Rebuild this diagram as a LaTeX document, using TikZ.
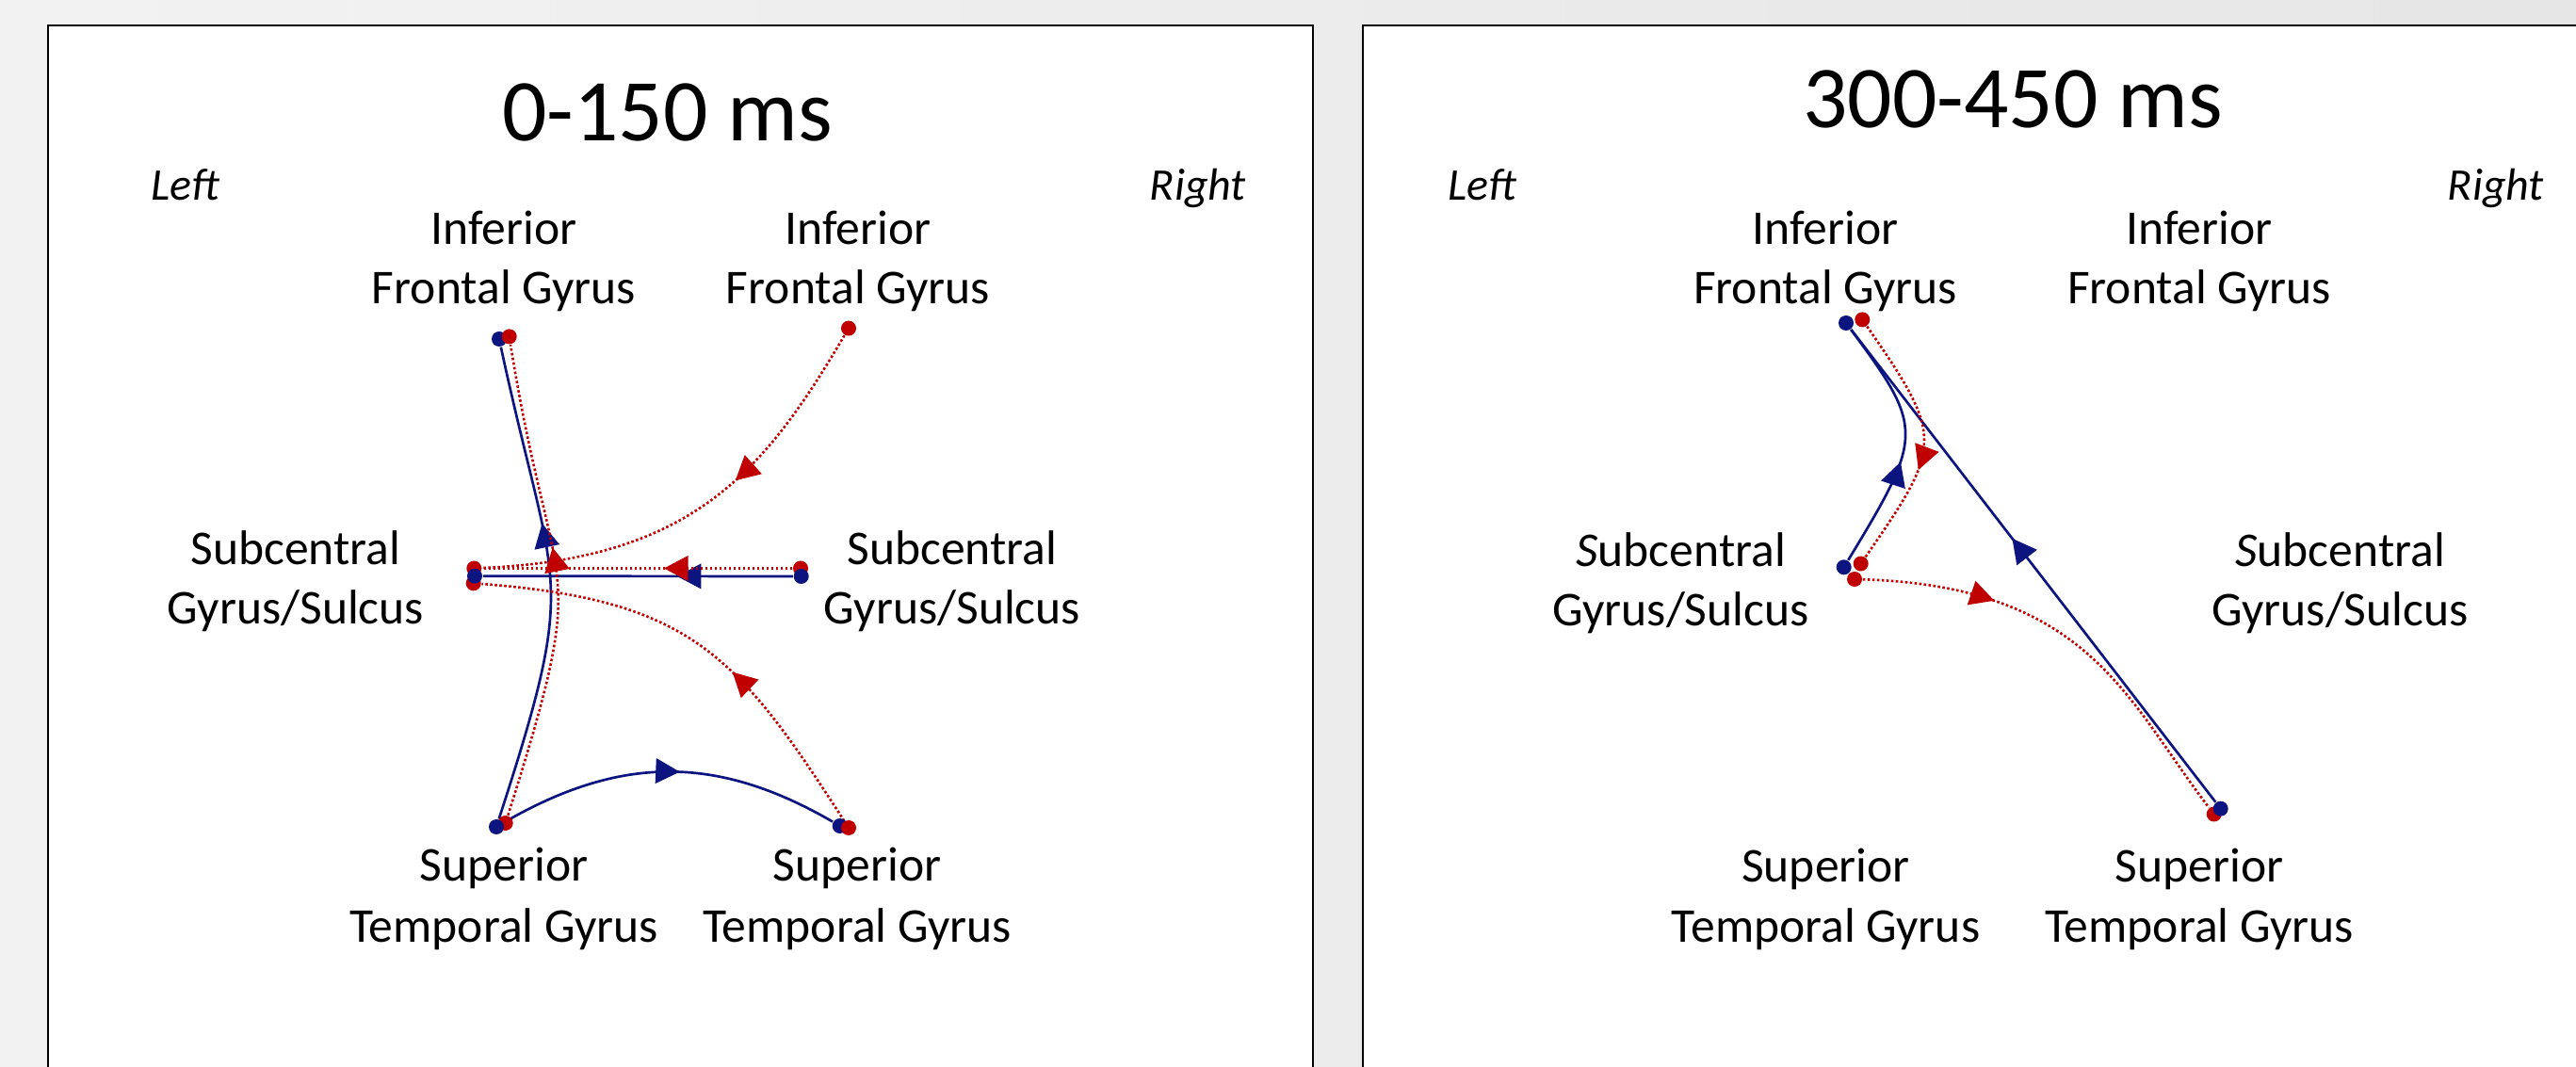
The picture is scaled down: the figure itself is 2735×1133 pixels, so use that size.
\documentclass[tikz,border=0pt]{standalone}
\usepackage{fontspec}
\setmainfont{Carlito}
\usetikzlibrary{arrows.meta,decorations.markings}
\definecolor{navyb}{RGB}{12,20,128}
\definecolor{redd}{RGB}{192,0,0}
\pgfdeclarelayer{back}
\pgfdeclarelayer{edges}
\pgfsetlayers{back,edges,main}
\tikzset{
  bdot/.style={circle,fill=navyb,inner sep=0pt,minimum size=4pt},
  rdot/.style={circle,fill=redd,inner sep=0pt,minimum size=4pt},
  bedge/.style={draw=navyb,line width=0.67pt},
  redge/.style={draw=redd,line width=0.65pt,dash pattern=on 0.65pt off 0.6pt},
  midarrow/.style={postaction={decorate},decoration={markings,mark=at position #1 with {\arrow{Triangle[length=6.4pt,width=6.6pt]}}}},
  lab/.style={anchor=base,font=\fontsize{12.9}{16}\selectfont,inner sep=0pt},
  side/.style={anchor=base,font=\fontsize{12}{14}\selectfont\itshape,inner sep=0pt},
  ttl/.style={anchor=base,font=\fontsize{23.4}{28}\selectfont,inner sep=0pt},
  panel/.style={fill=white,draw=black,line width=0.7pt},
}
\begin{document}
\begin{tikzpicture}[x=0.25pt,y=-0.25pt]
\useasboundingbox (0,0) rectangle (2735,1133);
\begin{pgfonlayer}{back}
\fill[left color=black!5,right color=black!10] (0,0) rectangle (2735,1133);
\draw[panel] (51,27) rectangle (1394,1160);
\draw[panel] (1447,27) rectangle (2760,1160);
\end{pgfonlayer}

% ---------- left panel texts ----------
\node[ttl] (t1) at (708.6,150) {0-150 ms};
\node[side] (l1) at (197,213) {Left};
\node[side] (r1) at (1272,213) {Right};
\node[lab] (a1) at (535,260) {Inferior};
\node[lab] (a2) at (535,323) {Frontal Gyrus};
\node[lab] (b1) at (911,260) {Inferior};
\node[lab] (b2) at (911,323) {Frontal Gyrus};
\node[lab] (c1) at (314,600) {Subcentral};
\node[lab] (c2) at (314,663) {Gyrus/Sulcus};
\node[lab] (d1) at (1011,600) {Subcentral};
\node[lab] (d2) at (1011,663) {Gyrus/Sulcus};
\node[lab] (e1) at (535,936) {Superior};
\node[lab] (e2) at (535,1001) {Temporal Gyrus};
\node[lab] (f1) at (910,936) {Superior};
\node[lab] (f2) at (910,1001) {Temporal Gyrus};

% ---------- right panel texts ----------
\node[ttl] (t2) at (2137,136) {300-450 ms};
\node[side] (l2) at (1574,213) {Left};
\node[side] (r2) at (2650,213) {Right};
\node[lab] (g1) at (1938,260) {Inferior};
\node[lab] (g2) at (1938,323) {Frontal Gyrus};
\node[lab] (h1) at (2335,260) {Inferior};
\node[lab] (h2) at (2335,323) {Frontal Gyrus};
\node[lab] (i1) at (1784.6,602) {\textit{S}ubcentral};
\node[lab] (i2) at (1784.6,665) {Gyrus/Sulcus};
\node[lab] (j1) at (2484.6,602) {\textit{S}ubcentral};
\node[lab] (j2) at (2484.6,665) {Gyrus/Sulcus};
\node[lab] (k1) at (1938.5,937) {Superior};
\node[lab] (k2) at (1938.5,1001) {Temporal Gyrus};
\node[lab] (m1) at (2335,937) {Superior};
\node[lab] (m2) at (2335,1001) {Temporal Gyrus};

% ---------- left panel dots ----------
\node[bdot] (LIFGb) at (530,360) {};
\node[rdot] (LIFGr) at (540.7,357.4) {};
\node[rdot] (RIFGr) at (901,348.6) {};
\node[rdot] (LSCGrt) at (503.3,603.5) {};
\node[rdot] (LSCGrb) at (502.7,619.3) {};
\node[bdot] (LSCGb) at (504,611.7) {};
\node[rdot] (RSCGr) at (850,603.5) {};
\node[bdot] (RSCGb) at (850.7,612) {};
\node[rdot] (LSTGr) at (536.7,874) {};
\node[bdot] (LSTGb) at (527,878) {};
\node[bdot] (RSTGb) at (891.7,877) {};
\node[rdot] (RSTGr) at (901,879) {};

% ---------- right panel dots ----------
\node[bdot] (QIFGb) at (1960,343) {};
\node[rdot] (QIFGr) at (1977.3,339.4) {};
\node[rdot] (QSCGrb) at (1969,615) {};
\node[rdot] (QSCGrt) at (1975.7,598.5) {};
\node[bdot] (QSCGb) at (1957.7,602.3) {};
\node[rdot] (QSTGr) at (2350.7,864.5) {};
\node[bdot] (QSTGb) at (2357.7,858.7) {};

\begin{pgfonlayer}{edges}
% left panel
\draw[bedge,midarrow=0.626] (LSTGb) .. controls +(89,-274) and +(59,274) .. (LIFGb);
\draw[bedge,midarrow=0.534] (LSTGb) .. controls +(131,-76) and +(-131,-76) .. (RSTGb);
\draw[bedge,midarrow=0.374] (RSCGb) -- (LSCGb);
\draw[redge,midarrow=0.57] (LSTGr) .. controls +(93,-294) and +(47,293) .. (LIFGr);
\draw[redge,midarrow=0.40] (RIFGr) .. controls +(-91,155) and +(230,-10) .. (LSCGrt);
\draw[redge,midarrow=0.414] (RSCGr) -- (LSCGrt);
\draw[redge,midarrow=0.407] (RSTGr) .. controls +(-119,-185) and +(230,18) .. (LSCGrb);
% right panel
\draw[bedge,midarrow=0.558] (QSTGb) -- (QIFGb);
\draw[bedge,midarrow=0.43] (QSCGb) .. controls +(85,-140) and +(83,112) .. (QIFGb);
\draw[redge,midarrow=0.61] (QIFGr) .. controls +(87,125.5) and +(87,-125.5) .. (QSCGrt);
\draw[redge,midarrow=0.305] (QSCGrb) .. controls +(250,7.5) and +(-91.6,-118.8) .. (QSTGr);
\end{pgfonlayer}
\end{tikzpicture}
\end{document}
